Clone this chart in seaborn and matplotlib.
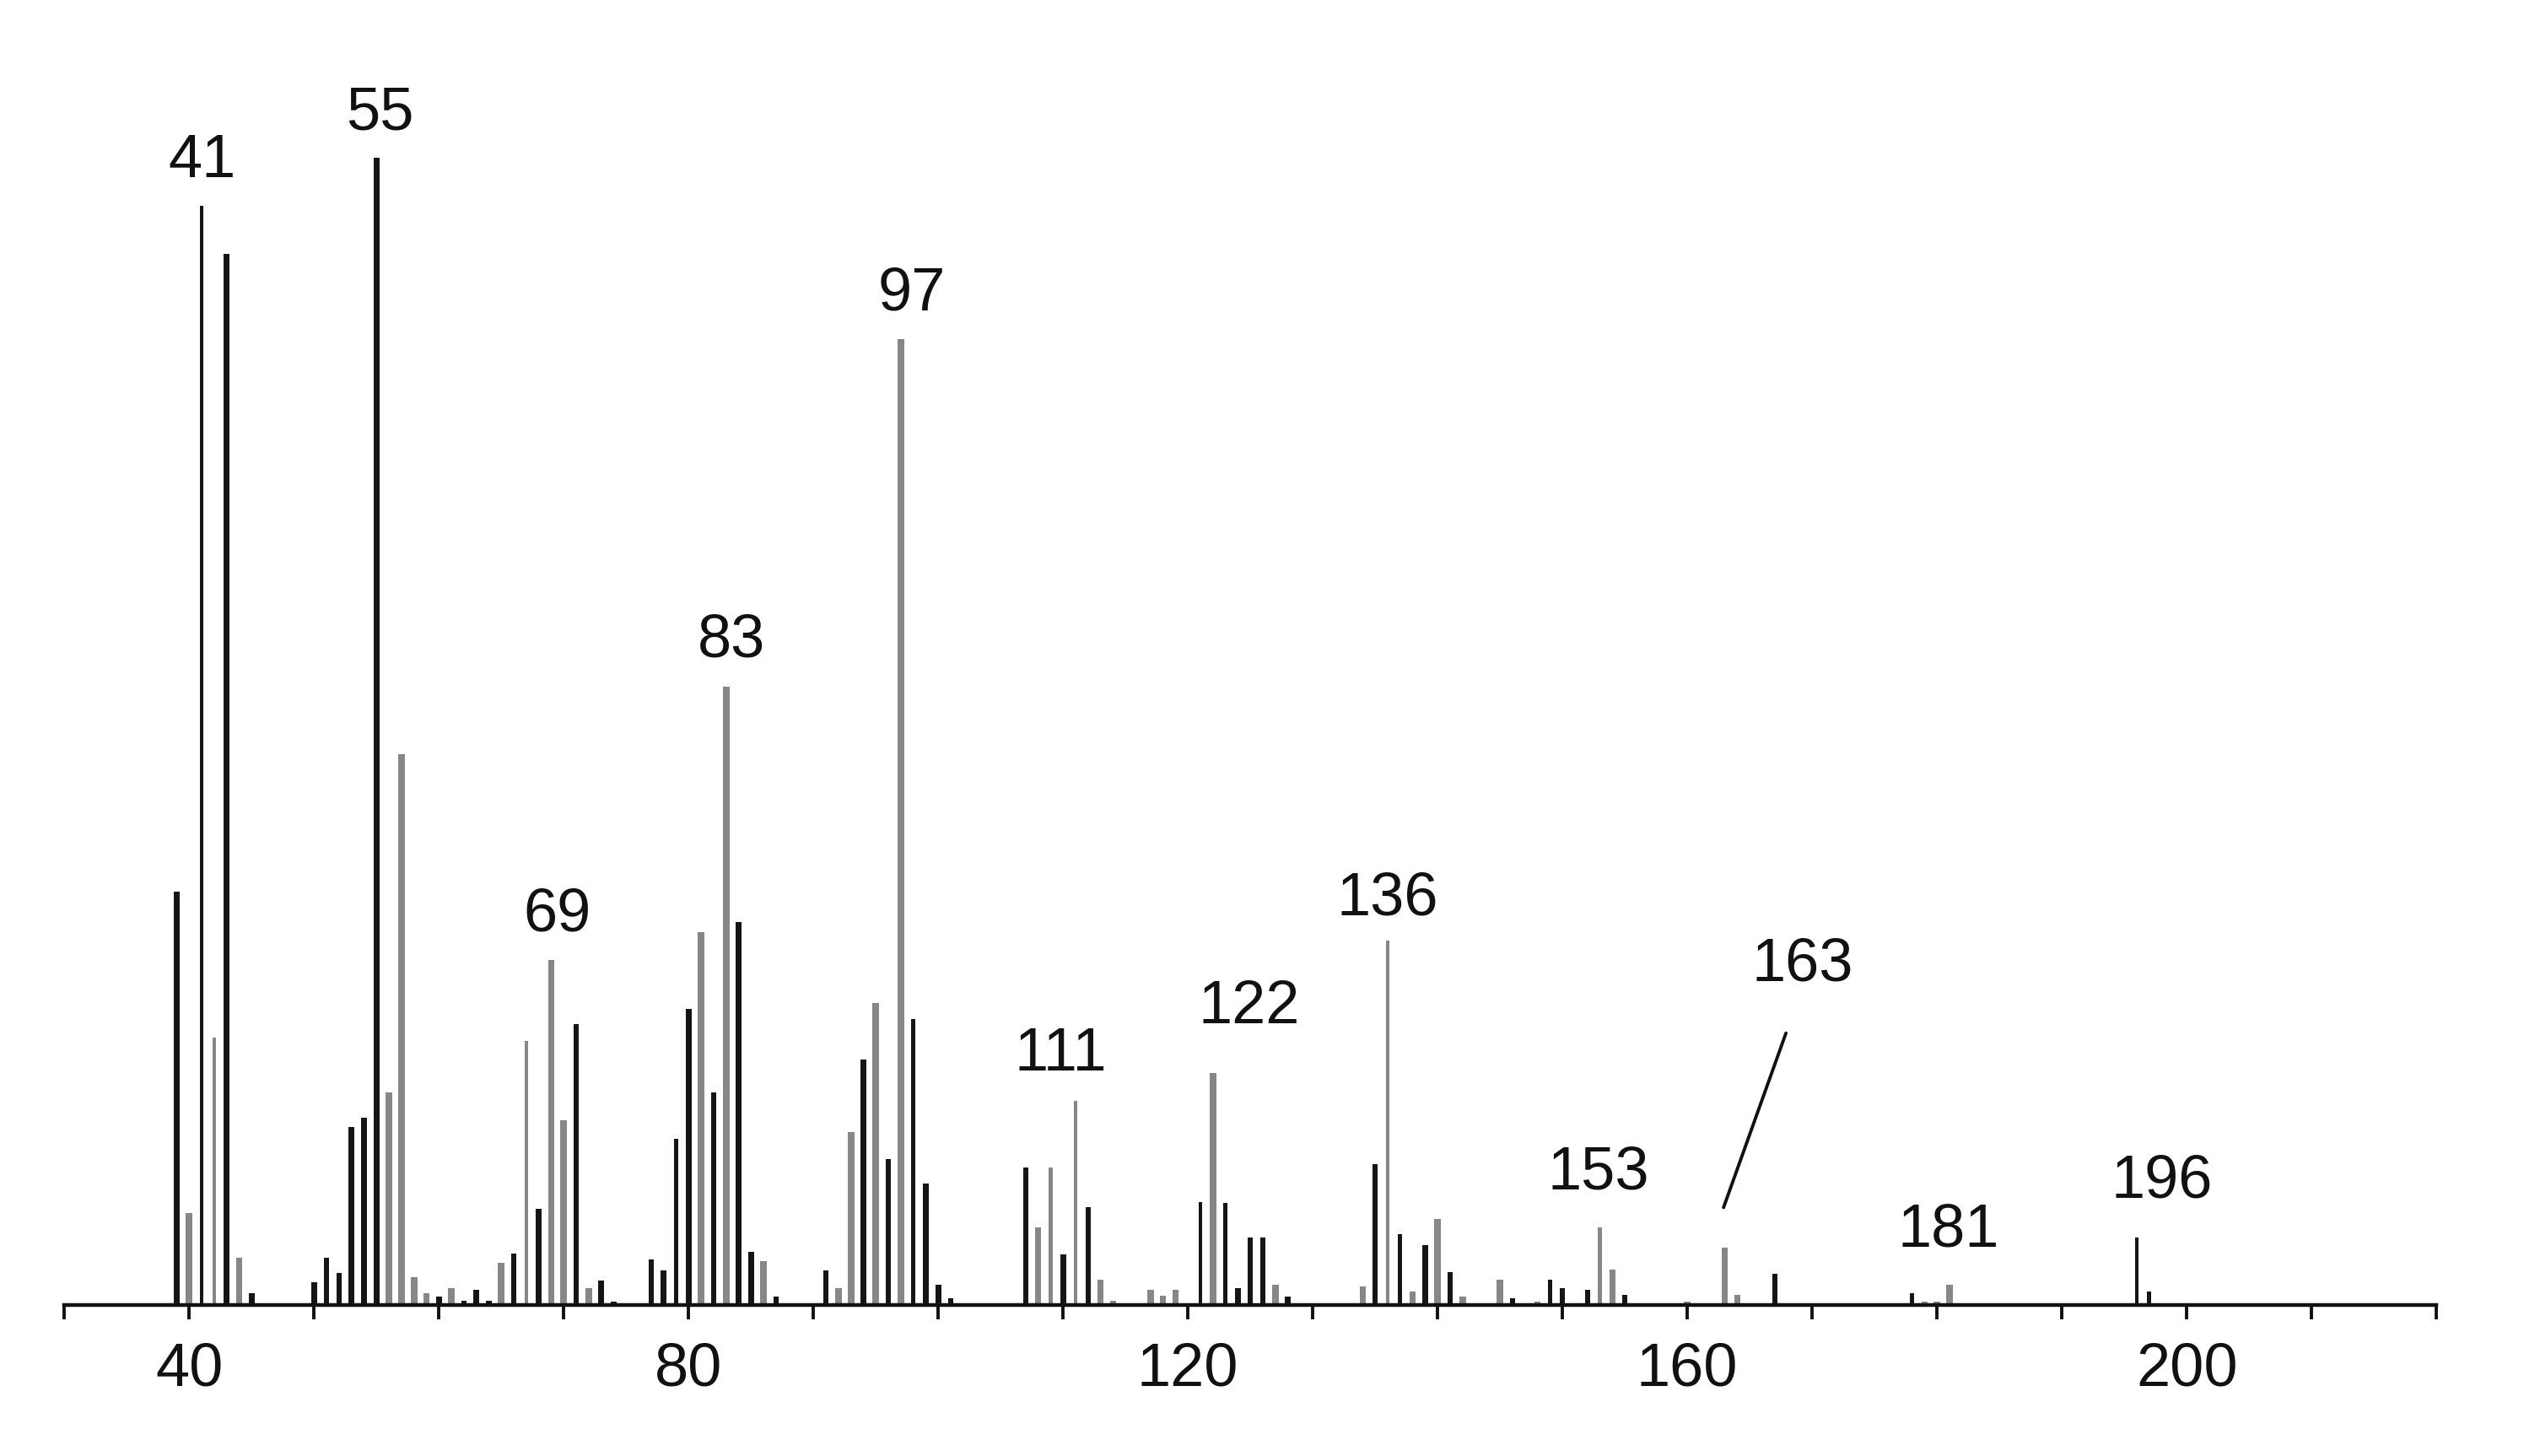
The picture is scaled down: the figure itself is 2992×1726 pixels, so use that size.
import matplotlib
matplotlib.use("Agg")
import matplotlib.pyplot as plt
import pandas as pd
import seaborn as sns

# m/z values of the peaks
mz = [39, 40, 41, 42, 43, 44, 45,
      50, 51, 52, 53, 54, 55, 56, 57, 58, 59, 60, 61, 62, 63, 64,
      65, 66, 67, 68, 69, 70, 71, 72, 73, 74,
      77, 78, 79, 80, 81, 82, 83, 84, 85, 86, 87,
      91, 92, 93, 94, 95, 96, 97, 98, 99, 100, 101,
      107, 108, 109, 110, 111, 112, 113, 114,
      117, 118, 119, 121, 122, 123, 124, 125, 126, 127, 128,
      134, 135, 136, 137, 138, 139, 140, 141, 142,
      145, 146, 148, 149, 150, 152, 153, 154, 155,
      160, 163, 164, 167, 178, 179, 180, 181, 196, 197]

# relative intensity (%)
intensity = [36.0, 8.0, 95.8, 23.3, 91.6, 4.1, 1.0,
             2.0, 4.1, 2.8, 15.5, 16.3, 100.0, 18.5, 48.0, 2.4, 1.0, 0.7, 1.5, 0.4, 1.3, 0.4,
             3.7, 4.5, 23.0, 8.4, 30.1, 16.1, 24.5, 1.5, 2.1, 0.3,
             4.0, 3.0, 14.5, 25.8, 32.5, 18.5, 53.9, 33.4, 4.6, 3.8, 0.7,
             3.0, 1.5, 15.1, 21.4, 26.3, 12.7, 84.2, 24.9, 10.6, 1.8, 0.6,
             12.0, 6.8, 12.0, 4.4, 17.8, 8.5, 2.2, 0.4,
             1.3, 0.8, 1.3, 9.0, 20.2, 8.9, 1.5, 5.9, 5.9, 1.8, 0.7,
             1.6, 12.3, 31.8, 6.2, 1.2, 5.2, 7.5, 2.9, 0.7,
             2.2, 0.6, 0.3, 2.2, 1.5, 1.3, 6.8, 3.1, 0.9,
             0.3, 5.0, 0.9, 2.7, 1.0, 0.3, 0.3, 1.8, 5.9, 1.2]

# stroke shade of each line: k = black, g = grey, t = thin
shade = ["k", "g", "kt", "gt", "k", "g", "k",
         "k", "k", "k", "k", "k", "k", "g", "g", "g", "g", "k", "g", "k", "k", "k",
         "g", "k", "gt", "k", "g", "g", "k", "g", "k", "k",
         "k", "k", "kt", "k", "g", "k", "g", "k", "k", "g", "k",
         "k", "g", "g", "k", "g", "k", "g", "kt", "k", "k", "k",
         "k", "g", "gt", "k", "gt", "k", "g", "g",
         "g", "g", "g", "kt", "g", "kt", "k", "k", "k", "g", "k",
         "g", "k", "gt", "kt", "g", "k", "g", "k", "g",
         "g", "k", "g", "kt", "k", "k", "gt", "g", "k",
         "g", "g", "g", "k", "kt", "g", "g", "g", "kt", "kt"]

labelled_peaks = [41, 55, 69, 83, 97, 111, 122, 136, 153, 163, 181, 196]
tick_values = list(range(30, 221, 10))
tick_labels = ["40", "80", "120", "160", "200"]

df = pd.DataFrame({"mz": mz, "intensity": intensity, "shade": shade})

sns.set_theme(style="ticks")
plt.rcParams["font.family"] = ["Liberation Sans", "DejaVu Sans"]

palette = {"k": "#151515", "kt": "#151515", "g": "#878787", "gt": "#878787"}
widths = {"k": 0.44, "kt": 0.32, "g": 0.52, "gt": 0.32}

fig = plt.figure(figsize=(14.96, 8.63), dpi=200)
ax = fig.add_axes([0.0255, 0.1037, 0.9398, 0.8963])

sns.barplot(data=df, x="mz", y="intensity", hue="shade", palette=palette,
            native_scale=True, dodge=False, width=0.4, errorbar=None,
            linewidth=0, legend=False, ax=ax)

# per-line stroke widths
shade_of = dict(zip(mz, shade))
for p in ax.patches:
    c = p.get_x() + p.get_width() / 2
    w = widths[shade_of[int(round(c))]]
    p.set_x(c - w / 2)
    p.set_width(w)

# peak labels (x, y in data units)
label_pos = {41: (41.0, 99.7), 55: (55.3, 103.8), 69: (69.45, 34.0),
             83: (83.4, 57.9), 97: (97.9, 88.1), 111: (109.8, 21.8),
             122: (124.9, 25.9), 136: (136.0, 35.4), 153: (152.85, 11.5),
             163: (169.25, 29.6), 181: (180.9, 6.5), 196: (198.0, 10.7)}
for pk in labelled_peaks:
    x, y = label_pos[pk]
    ax.text(x, y, str(pk), ha="center", va="center", fontsize=26, color="#111111")

# leader line for 163
ax.plot([162.9, 167.9], [8.5, 23.7], color="#111111", lw=1.4)

ax.set_xlim(30, 220)
ax.set_ylim(0, 113.75)
ax.set_xticks(tick_values)
ax.set_xticklabels([str(v) if str(v) in tick_labels else "" for v in tick_values],
                   fontsize=26)
ax.set_yticks([])
ax.set_xlabel("")
ax.set_ylabel("")
sns.despine(ax=ax, left=True)
ax.spines["bottom"].set_linewidth(1.6)
ax.spines["bottom"].set_color("#111111")
ax.tick_params(axis="x", direction="out", length=6.1, width=1.4, pad=9.5,
               colors="#111111")

fig.savefig("out.png", dpi=200, facecolor="white")
